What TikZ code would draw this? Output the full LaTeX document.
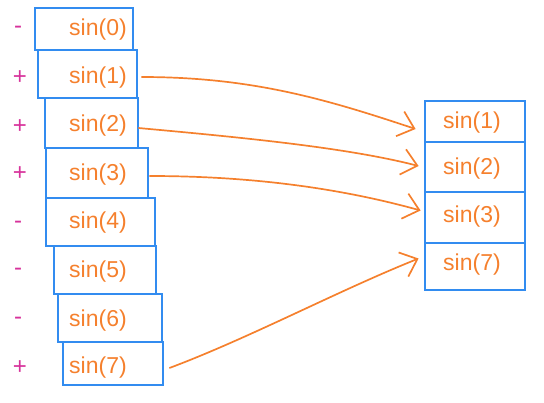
\documentclass[tikz,border=0pt]{standalone}
\usepackage{fontspec}
\setmainfont{Liberation Sans}
\usepackage{xcolor}
\definecolor{Blue}{RGB}{50,140,240}
\definecolor{Orange}{RGB}{245,128,45}
\definecolor{Magenta}{RGB}{215,50,155}
\usetikzlibrary{arrows.meta,calc}

\tikzset{
	cell/.style={draw=Blue, line width=2.8pt, inner sep=0pt},
	val/.style={text=Orange, font=\fontsize{23}{27}\selectfont, text height=17pt, text depth=6pt, inner sep=0pt},
	sign/.style={text=Magenta, font=\fontsize{24}{28}\selectfont, text height=17pt, text depth=6pt, inner sep=0pt},
	move/.style={draw=Orange, line width=1.7pt, -{Straight Barb[length=15pt,width=26pt]}}
}

\begin{document}
\begin{tikzpicture}[x=1pt, y=-1pt]
		
		\useasboundingbox (0,0) rectangle (544,402);
		
		% Left column
		\node[cell, minimum width=98pt, minimum height=42pt] (l0) at (84,29) {};
		\node[cell, minimum width=99pt, minimum height=48pt] (l1) at (87.5,74) {};
		\node[cell, minimum width=93pt, minimum height=50pt] (l2) at (91.5,123) {};
		\node[cell, minimum width=102pt, minimum height=50pt] (l3) at (97,173) {};
		\node[cell, minimum width=109pt, minimum height=48pt] (l4) at (100.5,222) {};
		\node[cell, minimum width=102pt, minimum height=48pt] (l5) at (105,270) {};
		\node[cell, minimum width=104pt, minimum height=48pt] (l6) at (110,318) {};
		\node[cell, minimum width=100pt, minimum height=43pt] (l7) at (113,363.5) {};
		
		% Right column
		\node[cell, minimum width=100pt, minimum height=41pt] (r1) at (475,121.5) {};
		\node[cell, minimum width=100pt, minimum height=50pt] (r2) at (475,167) {};
		\node[cell, minimum width=100pt, minimum height=51pt] (r3) at (475,217.5) {};
		\node[cell, minimum width=100pt, minimum height=47pt] (r7) at (475,266.5) {};
		
		% Values
		\node[val] (t0) at (98,30) {sin(0)};
		\node[val] (t1) at (98,78) {sin(1)};
		\node[val] (t2) at (98,126) {sin(2)};
		\node[val] (t3) at (98,175) {sin(3)};
		\node[val] (t4) at (98,223) {sin(4)};
		\node[val] (t5) at (98,272) {sin(5)};
		\node[val] (t6) at (98,321) {sin(6)};
		\node[val] (t7) at (98,368) {sin(7)};
		
		\node[val] (u1) at (472,123) {sin(1)};
		\node[val] (u2) at (472,169) {sin(2)};
		\node[val] (u3) at (472,217) {sin(3)};
		\node[val] (u7) at (472,265) {sin(7)};
		
		% Signs
		\node[sign] (s0) at (18,28) {-};
		\node[sign] (s1) at (20,79) {+};
		\node[sign] (s2) at (20,128) {+};
		\node[sign] (s3) at (20,175) {+};
		\node[sign] (s4) at (18,223) {-};
		\node[sign] (s5) at (18,270) {-};
		\node[sign] (s6) at (18,319) {-};
		\node[sign] (s7) at (20,369) {+};
		
		% Arrows
		\draw[move] ($(l1.east)+(3,3)$) .. controls +(110,0) and +(-90,-30) .. ($(r1.west)+(-8,7.5)$);
		\draw[move] ($(l2.east)+(-1,5)$) .. controls +(110,10) and +(-70,-18) .. ($(r2.west)+(-5,-1)$);
		\draw[move] ($(l3.east)+(0,3)$) .. controls +(90,0) and +(-90,-25) .. ($(r3.west)+(-3,-7)$);
		\draw[move] ($(l7.east)+(5,4.5)$) .. controls +(80,-30) and +(-80,32) .. ($(r7.west)+(-5,-8)$);
		
	\end{tikzpicture}
\end{document}
